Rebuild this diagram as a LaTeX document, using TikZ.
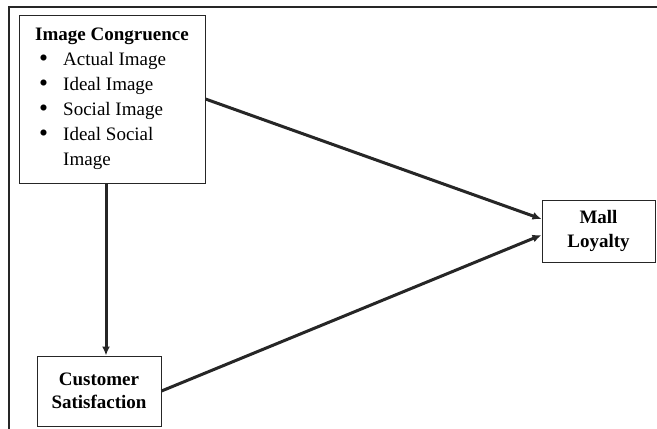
\documentclass[tikz,border=0pt]{standalone}
\usepackage{fontspec}
\setmainfont{Liberation Serif}
\usetikzlibrary{arrows.meta}
\newcommand{\bigbul}{\makebox[24pt][l]{\raisebox{-0.5pt}{\scalebox{1.35}{\textbullet}}}}
\begin{document}
\begin{tikzpicture}[x=1pt,y=1pt,
  box/.style={draw=black!85, line width=1pt, fill=white, align=center, inner sep=0pt,
    font=\fontsize{19}{24}\selectfont\bfseries},
  conn/.style={line width=3pt, draw=black!85, -{Latex[length=9pt,width=8pt]}}]
\useasboundingbox (0,0) rectangle (657,-429);
% outer frame
\coordinate (ftl) at (9,-7);
\coordinate (ftr) at (657,-7);
\coordinate (fbl) at (9,-429);
\draw[line width=1.3pt, black!85] (ftr) -- (ftl) -- (fbl);
% boxes
\node[box, minimum width=186, minimum height=168, align=left,
  font=\fontsize{19}{25}\selectfont] (ic) at (112,-99)
  {\textbf{Image Congruence}\\
   \hspace*{4pt}\bigbul Actual Image\\
   \hspace*{4pt}\bigbul Ideal Image\\
   \hspace*{4pt}\bigbul Social Image\\
   \hspace*{4pt}\bigbul Ideal Social\\
   \hspace*{28pt}Image\hspace*{60pt}};
\node[box, minimum width=113, minimum height=62] (ml) at (598.5,-231) {Mall\\Loyalty};
\node[box, minimum width=124, minimum height=70, font=\fontsize{19}{23}\selectfont\bfseries] (cs) at (99,-391) {Customer\\Satisfaction};
% connectors
\draw[conn] (ic.east) -- ([yshift=12pt]ml.west);
\draw[conn] (cs.east) -- ([yshift=-4pt]ml.west);
\draw[conn] ([xshift=-6pt]ic.south) -- ([xshift=-6pt]ic.south |- cs.north);
\end{tikzpicture}
\end{document}
